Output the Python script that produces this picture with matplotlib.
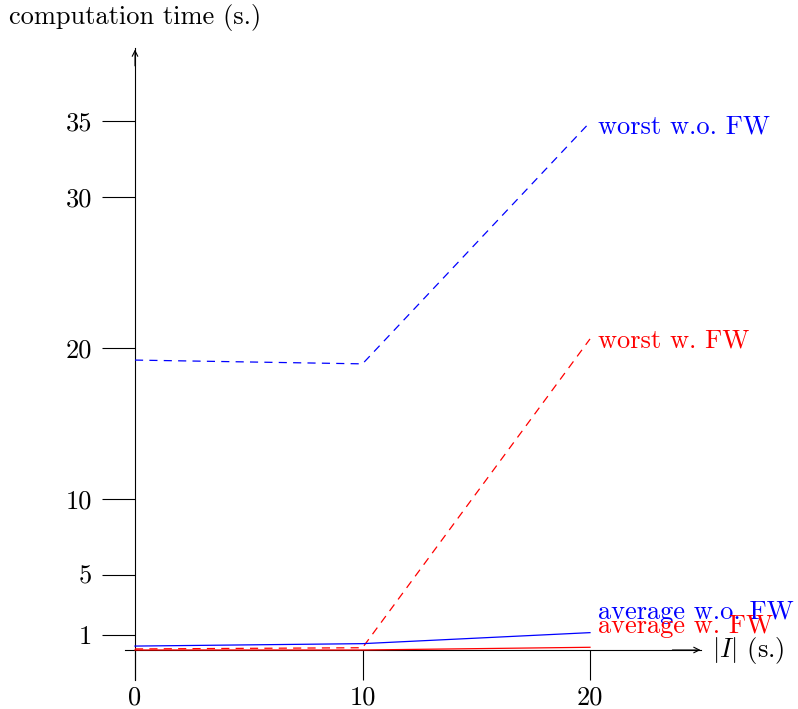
import matplotlib
matplotlib.use("Agg")
import matplotlib.pyplot as plt

plt.rcParams['font.family'] = ['cmr10', 'DejaVu Serif']
plt.rcParams['mathtext.fontset'] = 'cm'
plt.rcParams['axes.formatter.use_mathtext'] = True

x = [0, 10, 20]
worst_wo = [19.2, 18.95, 34.95]
worst_w = [0.07, 0.15, 20.6]
avg_wo = [0.26, 0.42, 1.15]
avg_w = [0.0, 0.0, 0.18]
xticks = [0, 10, 20]
yticks = [1, 5, 10, 20, 30, 35]
labels = ["worst w.o. FW", "worst w. FW", "average w.o. FW", "average w. FW"]

fig = plt.figure(figsize=(7.98, 7.09), dpi=100)
ax = fig.add_axes([100/798, (709-680.2)/709, (726.5-100)/798, (680.2-46)/709])
ax.set_xlim(-35/22.75, 26)
ax.set_ylim(-2.0, 40.0)

fs = 19
series = [
    (worst_wo, 'blue', (0, (6.5, 5)), (6, -3)),
    (worst_w, 'red', (0, (6.5, 5)), (6, -1)),
    (avg_wo, 'blue', '-', (6, 15)),
    (avg_w, 'red', '-', (6, 15)),
]
for (ys, c, ls, off), lab in zip(series, labels):
    ax.plot(x, ys, color=c, lw=0.9, ls=ls, clip_on=False, zorder=3)
    ax.annotate(lab, (x[-1], ys[-1]), xytext=off, textcoords='offset points',
                color=c, fontsize=fs, ha='left', va='center')

for s in ['top', 'right']:
    ax.spines[s].set_visible(False)
ax.spines['left'].set_position(('data', 0))
ax.spines['bottom'].set_position(('data', 0))
ax.spines['left'].set_bounds(-2.0, 39.9)
ax.spines['bottom'].set_bounds(-0.44, 24.9)
for s in ['left', 'bottom']:
    ax.spines[s].set_linewidth(0.8)
    ax.spines[s].set_color('black')

ax.annotate('', xy=(0, 39.95), xytext=(0, 38.5),
            arrowprops=dict(arrowstyle='->', lw=0.8, color='black', mutation_scale=10))
ax.annotate('', xy=(24.98, 0), xytext=(23.5, 0),
            arrowprops=dict(arrowstyle='->', lw=0.8, color='black', mutation_scale=10))

ax.set_xticks(xticks)
ax.set_xticklabels([str(v) for v in xticks])
ax.set_yticks(yticks)
ax.set_yticklabels([str(v) for v in yticks])
ax.tick_params(axis='y', direction='out', length=24, width=0.8, pad=7, labelsize=fs)
ax.tick_params(axis='x', direction='out', length=21.6, width=0.8, pad=4, labelsize=fs)

ax.text(25.35, 0, r'$|I|$ (s.)', fontsize=fs, ha='left', va='center')
ax.text(0, 41.0, 'computation time (s.)', fontsize=fs, ha='center', va='bottom',
        transform=ax.transData, clip_on=False)

fig.savefig('out.png', dpi=100)
